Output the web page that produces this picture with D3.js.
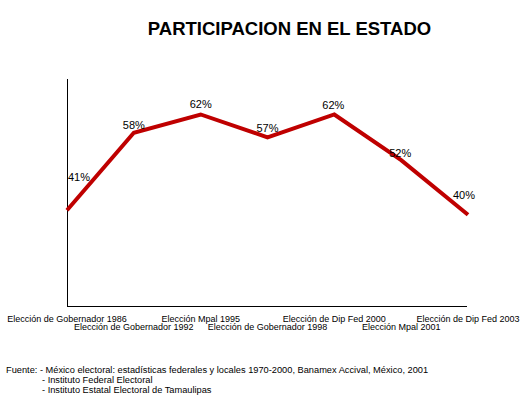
<!DOCTYPE html>
<html><head><meta charset="utf-8">
<script src="https://cdn.jsdelivr.net/npm/d3@7"></script>
<style>html,body{margin:0;padding:0;background:#fff;} svg{display:block;}</style>
</head><body>
<script>
const categories = ["Elección de Gobernador 1986","Elección de Gobernador 1992","Elección Mpal 1995","Elección de Gobernador 1998","Elección de Dip Fed 2000","Elección Mpal 2001","Elección de Dip Fed 2003"];
const values = [41, 58, 62, 57, 62, 52, 40];
const valueLabels = ["41%","58%","62%","57%","62%","52%","40%"];
const title = "PARTICIPACION EN EL ESTADO";
const sources = ["Fuente: - México electoral: estadísticas federales y locales 1970-2000, Banamex Accival, México, 2001","- Instituto Federal Electoral","- Instituto Estatal Electoral de Tamaulipas"];

// layout (styling) constants
const W = 529, H = 398;
const labelDx = [12, 0, 0, 0, -1, -1, -4];
const labelDy = [-33, -8, -10, -9, -9, -7, -20];

const svg = d3.select("body").append("svg").attr("width", W).attr("height", H)
  .style("font-family", "'Liberation Sans', Arial, sans-serif");

const x = d3.scalePoint().domain(categories).range([67, 468]);
const y = d3.scaleLinear().domain([20, 70]).range([306, 78]);

svg.append("text").attr("x", 289.5).attr("y", 35).attr("text-anchor", "middle")
  .attr("font-size", 18.5).attr("font-weight", "bold").attr("fill", "#000").text(title);

// axes
svg.append("line").attr("x1", 67.5).attr("x2", 67.5).attr("y1", y.range()[1]+1).attr("y2", 306.5).attr("stroke", "#000");
svg.append("line").attr("x1", 67).attr("x2", 467).attr("y1", 306.5).attr("y2", 306.5).attr("stroke", "#000");

// line
const line = d3.line().x((d, i) => x(categories[i])).y(d => y(d));
svg.append("path").datum(values).attr("d", line).attr("fill", "none")
  .attr("stroke", "#BF0000").attr("stroke-width", 4).attr("stroke-linejoin", "miter");

// value labels
svg.selectAll("text.val").data(values).join("text").attr("class", "val")
  .attr("x", (d, i) => x(categories[i]) + labelDx[i])
  .attr("y", (d, i) => y(d) + labelDy[i] + 4)
  .attr("text-anchor", "middle").attr("font-size", 11).attr("fill", "#000")
  .text((d, i) => valueLabels[i]);

// category labels (alternating rows)
svg.selectAll("text.cat").data(categories).join("text").attr("class", "cat")
  .attr("x", d => x(d))
  .attr("y", (d, i) => i % 2 === 0 ? 322 : 330)
  .attr("text-anchor", "middle").attr("font-size", 9).attr("fill", "#000")
  .text(d => d);

// sources
svg.selectAll("text.src").data(sources).join("text").attr("class", "src")
  .attr("x", (d, i) => i === 0 ? 6 : 42)
  .attr("y", (d, i) => 373 + i * 10)
  .attr("font-size", 9.25).attr("fill", "#000")
  .text(d => d);
</script>
</body></html>
